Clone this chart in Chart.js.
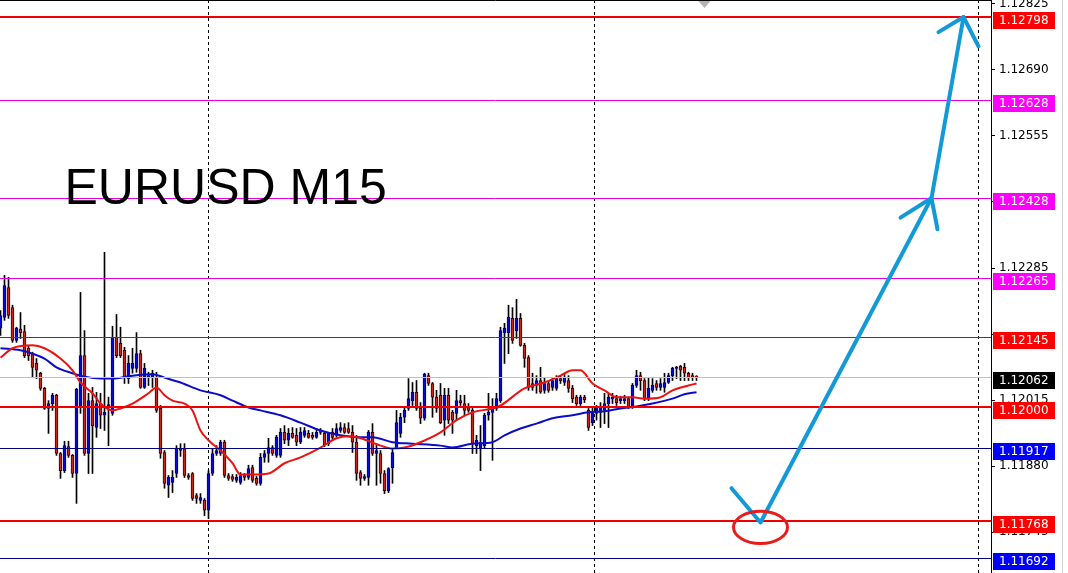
<!DOCTYPE html>
<html>
<head>
<meta charset="utf-8">
<title>EURUSD M15</title>
<script src="https://cdn.jsdelivr.net/npm/chart.js@4.4.0/dist/chart.umd.min.js"></script>
<style>
    html, body { margin: 0; padding: 0; background: #fff; overflow: hidden; }
    #wrap { width: 1068px; height: 573px; position: relative; }
</style>
</head>
<body>
<div id="wrap"><canvas id="chart"></canvas></div>
<script>
// M15 candles (one entry per bar)
const candleOpen = [
    1.12162, 1.12184, 1.12245, 1.12204, 1.12137, 1.12160, 1.12155, 1.12121, 1.12110, 1.12090,
    1.12070, 1.12039, 1.11998, 1.12008, 1.12025, 1.11906, 1.11871, 1.11920, 1.11902, 1.11865,
    1.12000, 1.12106, 1.11906, 1.12014, 1.11959, 1.12008, 1.11984, 1.12000, 1.11988, 1.12143,
    1.12131, 1.12117, 1.12059, 1.12080, 1.12080, 1.12110, 1.12041, 1.12061, 1.12061, 1.12061,
    1.11998, 1.11908, 1.11841, 1.11847, 1.11865, 1.11912, 1.11916, 1.11861, 1.11865, 1.11820,
    1.11810, 1.11810, 1.11790, 1.11865, 1.11906, 1.11906, 1.11929, 1.11861, 1.11859, 1.11851,
    1.11847, 1.11861, 1.11857, 1.11877, 1.11855, 1.11845, 1.11898, 1.11906, 1.11918, 1.11902,
    1.11902, 1.11949, 1.11933, 1.11947, 1.11943, 1.11929, 1.11943, 1.11947, 1.11943, 1.11939,
    1.11953, 1.11947, 1.11926, 1.11949, 1.11943, 1.11953, 1.11959, 1.11957, 1.11949, 1.11929,
    1.11867, 1.11855, 1.11857, 1.11949, 1.11906, 1.11906, 1.11865, 1.11830, 1.11877, 1.11918,
    1.11947, 1.11980, 1.11998, 1.12014, 1.12031, 1.11998, 1.11978, 1.12065, 1.12049, 1.12021,
    1.12025, 1.11974, 1.12025, 1.11990, 1.11988, 1.12014, 1.12008, 1.12000, 1.11994, 1.11922,
    1.11918, 1.11922, 1.11984, 1.11990, 1.11998, 1.12014, 1.12153, 1.12153, 1.12182, 1.12157,
    1.12182, 1.12127, 1.12102, 1.12049, 1.12045, 1.12055, 1.12035, 1.12049, 1.12041, 1.12039,
    1.12059, 1.12051, 1.12055, 1.12039, 1.12021, 1.12008, 1.12021, 1.11994, 1.11969, 1.11988,
    1.11990, 1.11994, 1.12008, 1.12018, 1.12018, 1.12014, 1.12014, 1.12018, 1.12000, 1.12045,
    1.12065, 1.12055, 1.12018, 1.12035, 1.12049, 1.12041, 1.12041, 1.12051, 1.12065, 1.12080,
    1.12084, 1.12082, 1.12070, 1.12065, 1.12063
];
const candleHigh = [
    1.12198, 1.12270, 1.12266, 1.12209, 1.12164, 1.12194, 1.12168, 1.12127, 1.12113, 1.12100,
    1.12072, 1.12041, 1.12014, 1.12029, 1.12027, 1.11908, 1.11931, 1.11931, 1.11904, 1.12039,
    1.12235, 1.12157, 1.12029, 1.12041, 1.12031, 1.12029, 1.12317, 1.12021, 1.12166, 1.12190,
    1.12164, 1.12123, 1.12106, 1.12121, 1.12153, 1.12117, 1.12090, 1.12072, 1.12076, 1.12072,
    1.12004, 1.11912, 1.11861, 1.11871, 1.11922, 1.11926, 1.11926, 1.11865, 1.11867, 1.11824,
    1.11824, 1.11814, 1.11871, 1.11916, 1.11922, 1.11933, 1.11933, 1.11865, 1.11863, 1.11863,
    1.11867, 1.11865, 1.11882, 1.11882, 1.11859, 1.11906, 1.11912, 1.11937, 1.11922, 1.11943,
    1.11957, 1.11963, 1.11957, 1.11959, 1.11957, 1.11959, 1.11959, 1.11953, 1.11949, 1.11957,
    1.11957, 1.11951, 1.11949, 1.11957, 1.11967, 1.11969, 1.11967, 1.11969, 1.11963, 1.11943,
    1.11871, 1.11863, 1.11953, 1.11967, 1.11926, 1.11912, 1.11871, 1.11877, 1.11916, 1.11994,
    1.11988, 1.12000, 1.12059, 1.12051, 1.12055, 1.12010, 1.12070, 1.12070, 1.12051, 1.12035,
    1.12049, 1.12039, 1.12039, 1.11994, 1.12035, 1.12025, 1.12025, 1.12008, 1.11998, 1.11943,
    1.11963, 1.11988, 1.12029, 1.12018, 1.12029, 1.12164, 1.12172, 1.12209, 1.12204, 1.12221,
    1.12192, 1.12131, 1.12106, 1.12070, 1.12065, 1.12082, 1.12061, 1.12055, 1.12061, 1.12065,
    1.12065, 1.12070, 1.12065, 1.12045, 1.12025, 1.12025, 1.12025, 1.11998, 1.12000, 1.12004,
    1.12010, 1.12029, 1.12029, 1.12029, 1.12025, 1.12023, 1.12025, 1.12021, 1.12049, 1.12076,
    1.12072, 1.12059, 1.12061, 1.12059, 1.12055, 1.12059, 1.12070, 1.12070, 1.12082, 1.12084,
    1.12086, 1.12090, 1.12072, 1.12070, 1.12065
];
const candleLow = [
    1.12147, 1.12178, 1.12182, 1.12133, 1.12133, 1.12141, 1.12102, 1.12096, 1.12061, 1.12059,
    1.12035, 1.11996, 1.11947, 1.11994, 1.11902, 1.11855, 1.11867, 1.11898, 1.11857, 1.11804,
    1.11988, 1.11902, 1.11865, 1.11865, 1.11939, 1.11957, 1.11953, 1.11922, 1.11984, 1.12102,
    1.12102, 1.12049, 1.12049, 1.12070, 1.12072, 1.12039, 1.12039, 1.12045, 1.12041, 1.11990,
    1.11896, 1.11835, 1.11816, 1.11826, 1.11857, 1.11900, 1.11857, 1.11853, 1.11810, 1.11804,
    1.11804, 1.11779, 1.11773, 1.11861, 1.11902, 1.11902, 1.11857, 1.11851, 1.11849, 1.11847,
    1.11843, 1.11851, 1.11853, 1.11847, 1.11841, 1.11841, 1.11888, 1.11888, 1.11902, 1.11898,
    1.11898, 1.11926, 1.11922, 1.11937, 1.11922, 1.11926, 1.11939, 1.11937, 1.11935, 1.11937,
    1.11945, 1.11920, 1.11922, 1.11935, 1.11939, 1.11949, 1.11947, 1.11947, 1.11908, 1.11851,
    1.11841, 1.11851, 1.11841, 1.11902, 1.11841, 1.11845, 1.11824, 1.11826, 1.11845, 1.11916,
    1.11939, 1.11969, 1.11994, 1.12004, 1.11994, 1.11967, 1.11974, 1.12045, 1.11980, 1.11990,
    1.11967, 1.11943, 1.11967, 1.11947, 1.11974, 1.12004, 1.11984, 1.11990, 1.11906, 1.11906,
    1.11871, 1.11916, 1.11974, 1.11892, 1.11994, 1.12010, 1.12090, 1.12110, 1.12131, 1.12141,
    1.12125, 1.12082, 1.12035, 1.12035, 1.12029, 1.12029, 1.12029, 1.12031, 1.12035, 1.12035,
    1.12049, 1.12045, 1.12031, 1.12010, 1.12004, 1.12004, 1.12010, 1.11953, 1.11963, 1.11974,
    1.11959, 1.11967, 1.11959, 1.12008, 1.12004, 1.12008, 1.12008, 1.11998, 1.11998, 1.12041,
    1.12035, 1.12014, 1.12014, 1.12031, 1.12035, 1.12035, 1.12031, 1.12049, 1.12055, 1.12059,
    1.12055, 1.12055, 1.12055, 1.12055, 1.12055
];
const candleClose = [
    1.12188, 1.12249, 1.12188, 1.12137, 1.12162, 1.12153, 1.12106, 1.12106, 1.12082, 1.12076,
    1.12039, 1.11998, 1.12008, 1.12025, 1.11906, 1.11871, 1.11922, 1.11902, 1.11865, 1.12037,
    1.12106, 1.11906, 1.12014, 1.11963, 1.12008, 1.11984, 1.11990, 1.12006, 1.12143, 1.12106,
    1.12106, 1.12061, 1.12090, 1.12090, 1.12110, 1.12041, 1.12080, 1.12065, 1.12070, 1.11994,
    1.11906, 1.11845, 1.11857, 1.11857, 1.11916, 1.11916, 1.11861, 1.11857, 1.11814, 1.11814,
    1.11816, 1.11790, 1.11865, 1.11906, 1.11912, 1.11929, 1.11861, 1.11855, 1.11853, 1.11857,
    1.11861, 1.11857, 1.11875, 1.11851, 1.11845, 1.11898, 1.11906, 1.11918, 1.11906, 1.11939,
    1.11949, 1.11933, 1.11947, 1.11939, 1.11929, 1.11949, 1.11953, 1.11939, 1.11939, 1.11949,
    1.11949, 1.11924, 1.11947, 1.11939, 1.11957, 1.11959, 1.11949, 1.11949, 1.11929, 1.11865,
    1.11855, 1.11859, 1.11949, 1.11906, 1.11912, 1.11865, 1.11830, 1.11875, 1.11908, 1.11969,
    1.11980, 1.11994, 1.12018, 1.12031, 1.11998, 1.11978, 1.12068, 1.12049, 1.12021, 1.11998,
    1.11969, 1.12025, 1.11974, 1.11974, 1.12014, 1.12010, 1.11994, 1.11994, 1.11926, 1.11933,
    1.11929, 1.11984, 1.11990, 1.11998, 1.12018, 1.12157, 1.12162, 1.12184, 1.12137, 1.12182,
    1.12127, 1.12100, 1.12041, 1.12041, 1.12055, 1.12031, 1.12049, 1.12035, 1.12055, 1.12059,
    1.12055, 1.12061, 1.12039, 1.12018, 1.12008, 1.12021, 1.12016, 1.11959, 1.11990, 1.11998,
    1.11998, 1.12008, 1.12021, 1.12021, 1.12010, 1.12018, 1.12018, 1.12000, 1.12045, 1.12065,
    1.12055, 1.12018, 1.12039, 1.12045, 1.12041, 1.12049, 1.12051, 1.12065, 1.12080, 1.12082,
    1.12076, 1.12070, 1.12061, 1.12061, 1.12062
];

// moving averages, sampled at these bar indices
const fastMaIndex = [0, 3, 8, 11, 15, 18, 20, 23, 25, 28, 30, 33, 37, 39, 41, 43, 46, 48, 50, 52,
    55, 58, 60, 63, 67, 71, 75, 80, 84, 87, 90, 95, 98, 101, 105, 110, 114, 118, 123, 125,
    131, 136, 140, 143, 145, 148, 151, 154, 158, 161, 165, 168, 172, 174];
const fastMaValue = [1.12102, 1.12121, 1.12127, 1.12121, 1.12100, 1.12076, 1.12051, 1.12029, 1.12008, 1.11994,
    1.11998, 1.12008, 1.12029, 1.12041, 1.12025, 1.12014, 1.12008, 1.11994, 1.11953, 1.11933,
    1.11912, 1.11886, 1.11863, 1.11863, 1.11865, 1.11886, 1.11898, 1.11918, 1.11937, 1.11941,
    1.11937, 1.11922, 1.11916, 1.11918, 1.11929, 1.11949, 1.11974, 1.11990, 1.11998, 1.12004,
    1.12039, 1.12051, 1.12065, 1.12076, 1.12076, 1.12049, 1.12035, 1.12021, 1.12021, 1.12018,
    1.12021, 1.12035, 1.12045, 1.12049];
const slowMaIndex = [0, 5, 8, 11, 14, 18, 21, 25, 28, 33, 38, 41, 45, 50, 55, 58, 62, 65, 70, 75,
    80, 85, 90, 93, 98, 103, 110, 113, 118, 123, 126, 130, 134, 138, 143, 147, 151, 155, 159, 163,
    168, 171, 174];
const slowMaValue = [1.12121, 1.12117, 1.12110, 1.12100, 1.12082, 1.12070, 1.12063, 1.12059, 1.12059, 1.12065,
    1.12068, 1.12061, 1.12051, 1.12035, 1.12025, 1.12014, 1.12000, 1.11994, 1.11984, 1.11969,
    1.11953, 1.11943, 1.11939, 1.11939, 1.11929, 1.11926, 1.11922, 1.11918, 1.11926, 1.11929,
    1.11943, 1.11957, 1.11967, 1.11978, 1.11984, 1.11990, 1.11992, 1.11998, 1.12002, 1.12008,
    1.12018, 1.12027, 1.12031];

// price axis
const priceTicks = [1.11745, 1.11880, 1.12015, 1.12150, 1.12285, 1.12420, 1.12555, 1.12690, 1.12825];
const levelPrices = [1.12798, 1.12628, 1.12428, 1.12265, 1.12145, 1.12062, 1.12000, 1.11917, 1.11768, 1.11692];
const levelKinds = ['red', 'magenta', 'magenta', 'magenta', 'redThin', 'bid', 'red', 'navy', 'red', 'navy'];
const daySeparators = [51.75, 148.25, 244.25];

// hand drawn annotations (bar index, price)
const arrowPath = [[182.75, 1.11835], [190, 1.11765], [232.75, 1.12428], [240.75, 1.12798]];
const arrowHeads = [
    [[225, 1.12388], [232.75, 1.12428], [234.25, 1.12364]],
    [[234.5, 1.12767], [240.75, 1.12798], [244.5, 1.12738]]
];
const ellipseCenter = [190, 1.11755];
const ellipseRadius = [6.75, 0.00033];
const titleText = 'EURUSD M15';
const titleAnchor = [16, 1.12416];
const shiftMarkerIndex = 176;

const LEVEL_STYLE = {
    red:     { line: '#f00000', width: 2, box: '#ff0000' },
    redThin: { line: '#e00000', width: 1, box: '#ff0000' },
    magenta: { line: '#e600e6', width: 1, box: '#ff00ff' },
    navy:    { line: '#000080', width: 1, box: '#0000ff' },
    bid:     { line: '#c0c0c0', width: 1, box: '#000000' }
};
const AXIS_FONT = '12px "DejaVu Sans", Verdana, sans-serif';

class Mt4Chart {
    constructor(canvas) {
        this.canvas = canvas;
        this.chart = null;
        this.build();
    }

    buildDatasets() {
        const idx = candleOpen.map((_, i) => i);
        const bull = idx.map(i => candleClose[i] >= candleOpen[i]);

        return [
            {
                type: 'bar',
                data: idx.map(i => ({ x: i, y: [candleLow[i], candleHigh[i]] })),
                backgroundColor: '#000000',
                barThickness: 1,
                grouped: false,
                order: 4
            },
            {
                type: 'bar',
                data: idx.map(i => ({ x: i, y: [candleOpen[i], candleClose[i]] })),
                backgroundColor: bull.map(b => b ? '#0a0ac8' : '#c0281c'),
                borderColor: bull.map(b => b ? '#00007a' : '#3a0000'),
                borderWidth: 1,
                borderSkipped: false,
                barThickness: 3,
                minBarLength: 1,
                grouped: false,
                order: 3
            },
            {
                type: 'line',
                data: slowMaIndex.map((x, i) => ({ x, y: slowMaValue[i] })),
                borderColor: '#0c0cc8',
                borderWidth: 2,
                pointRadius: 0,
                cubicInterpolationMode: 'monotone',
                order: 2
            },
            {
                type: 'line',
                data: fastMaIndex.map((x, i) => ({ x, y: fastMaValue[i] })),
                borderColor: '#ee1111',
                borderWidth: 2,
                pointRadius: 0,
                cubicInterpolationMode: 'monotone',
                order: 1
            }
        ];
    }

    overlayPlugin() {
        const px = (xs, ys, p) => [xs.getPixelForValue(p[0]), ys.getPixelForValue(p[1])];
        return {
            id: 'mt4Overlay',
            beforeDatasetsDraw(chart) {
                const { ctx, chartArea: a, scales: { x } } = chart;
                ctx.save();
                // day separators
                ctx.strokeStyle = '#000';
                ctx.lineWidth = 1;
                ctx.setLineDash([3, 3]);
                daySeparators.forEach(d => {
                    const sx = Math.round(x.getPixelForValue(d)) + 0.5;
                    ctx.beginPath();
                    ctx.moveTo(sx, a.top);
                    ctx.lineTo(sx, a.bottom);
                    ctx.stroke();
                });
                ctx.setLineDash([]);
                // chart shift marker
                const mx = x.getPixelForValue(shiftMarkerIndex);
                ctx.fillStyle = '#b4b4b4';
                ctx.beginPath();
                ctx.moveTo(mx - 7, a.top);
                ctx.lineTo(mx + 7, a.top);
                ctx.lineTo(mx, a.top + 8);
                ctx.closePath();
                ctx.fill();
                ctx.restore();
            },
            afterDatasetsDraw(chart) {
                const { ctx, chartArea: a, scales: { x, y } } = chart;
                ctx.save();
                // horizontal levels
                levelPrices.forEach((p, i) => {
                    const st = LEVEL_STYLE[levelKinds[i]];
                    let ly = Math.round(y.getPixelForValue(p));
                    if (st.width % 2) ly += 0.5;
                    ctx.strokeStyle = st.line;
                    ctx.lineWidth = st.width;
                    ctx.beginPath();
                    ctx.moveTo(a.left, ly);
                    ctx.lineTo(a.right, ly);
                    ctx.stroke();
                });

                // title
                const t = px(x, y, titleAnchor);
                ctx.fillStyle = '#000';
                ctx.font = '50px "Liberation Sans", Arial, sans-serif';
                ctx.textBaseline = 'alphabetic';
                ctx.fillText(titleText, t[0], t[1]);

                // blue arrow
                ctx.strokeStyle = '#129ad8';
                ctx.lineWidth = 4;
                ctx.lineCap = 'round';
                ctx.lineJoin = 'round';
                ctx.beginPath();
                arrowPath.forEach((p, i) => {
                    const q = px(x, y, p);
                    if (i === 0) ctx.moveTo(q[0], q[1]); else ctx.lineTo(q[0], q[1]);
                });
                ctx.stroke();
                arrowHeads.forEach(head => {
                    ctx.beginPath();
                    head.forEach((p, i) => {
                        const q = px(x, y, p);
                        if (i === 0) ctx.moveTo(q[0], q[1]); else ctx.lineTo(q[0], q[1]);
                    });
                    ctx.stroke();
                });

                // red ellipse
                const c = px(x, y, ellipseCenter);
                const rx = Math.abs(x.getPixelForValue(ellipseCenter[0] + ellipseRadius[0]) - c[0]);
                const ry = Math.abs(y.getPixelForValue(ellipseCenter[1] + ellipseRadius[1]) - c[1]);
                ctx.strokeStyle = '#e81c1c';
                ctx.lineWidth = 3;
                ctx.beginPath();
                ctx.ellipse(c[0], c[1], rx, ry, 0, 0, Math.PI * 2);
                ctx.stroke();
                ctx.restore();
            },
            afterDraw(chart) {
                const { ctx, chartArea: a, scales: { y } } = chart;
                ctx.save();
                // frame top
                ctx.strokeStyle = '#000';
                ctx.lineWidth = 1;
                ctx.beginPath();
                ctx.moveTo(a.left, a.top + 0.5);
                ctx.lineTo(a.right, a.top + 0.5);
                ctx.stroke();

                // price boxes on the axis (MT4 puts them a little below the line)
                ctx.font = AXIS_FONT;
                ctx.textBaseline = 'middle';
                ctx.textAlign = 'left';
                levelPrices.forEach((p, i) => {
                    const st = LEVEL_STYLE[levelKinds[i]];
                    const ly = Math.round(y.getPixelForValue(p));
                    ctx.fillStyle = st.box;
                    ctx.fillRect(a.right + 2, ly - 5, 62, 17);
                    ctx.fillStyle = '#fff';
                    ctx.fillText(p.toFixed(5), a.right + 8, ly + 4);
                });

                // window edge
                ctx.strokeStyle = '#d4d4d4';
                ctx.beginPath();
                ctx.moveTo(1062.5, 0);
                ctx.lineTo(1062.5, chart.height);
                ctx.stroke();
                ctx.restore();
            }
        };
    }

    build() {
        this.chart = new Chart(this.canvas, {
            type: 'bar',
            data: { datasets: this.buildDatasets() },
            options: {
                responsive: true,
                maintainAspectRatio: false,
                animation: false,
                events: [],
                layout: { padding: 0 },
                plugins: { legend: { display: false }, tooltip: { enabled: false } },
                scales: {
                    x: {
                        type: 'linear',
                        min: -0.125,
                        max: 247.625,
                        offset: false,
                        display: false
                    },
                    y: {
                        type: 'linear',
                        position: 'right',
                        min: 1.116617,
                        max: 1.128327,
                        afterBuildTicks: s => { s.ticks = priceTicks.map(v => ({ value: v })); },
                        afterFit: s => { s.width = 77; s.paddingTop = 0; s.paddingBottom = 0; },
                        ticks: {
                            autoSkip: false,
                            color: '#000',
                            padding: 4,
                            font: { family: '"DejaVu Sans", Verdana, sans-serif', size: 12 },
                            // a tick that sits under a level box is not shown
                            callback: v => levelPrices.some(l => Math.abs(l - v) < 0.0001) ? '' : Number(v).toFixed(5)
                        },
                        grid: { drawOnChartArea: false, drawTicks: true, tickLength: 4, color: '#000' },
                        border: { display: true, color: '#000', width: 1 }
                    }
                }
            },
            plugins: [this.overlayPlugin()]
        });
    }
}

document.addEventListener('DOMContentLoaded', () => {
    window.mt4Chart = new Mt4Chart(document.getElementById('chart'));
});
</script>
</body>
</html>
